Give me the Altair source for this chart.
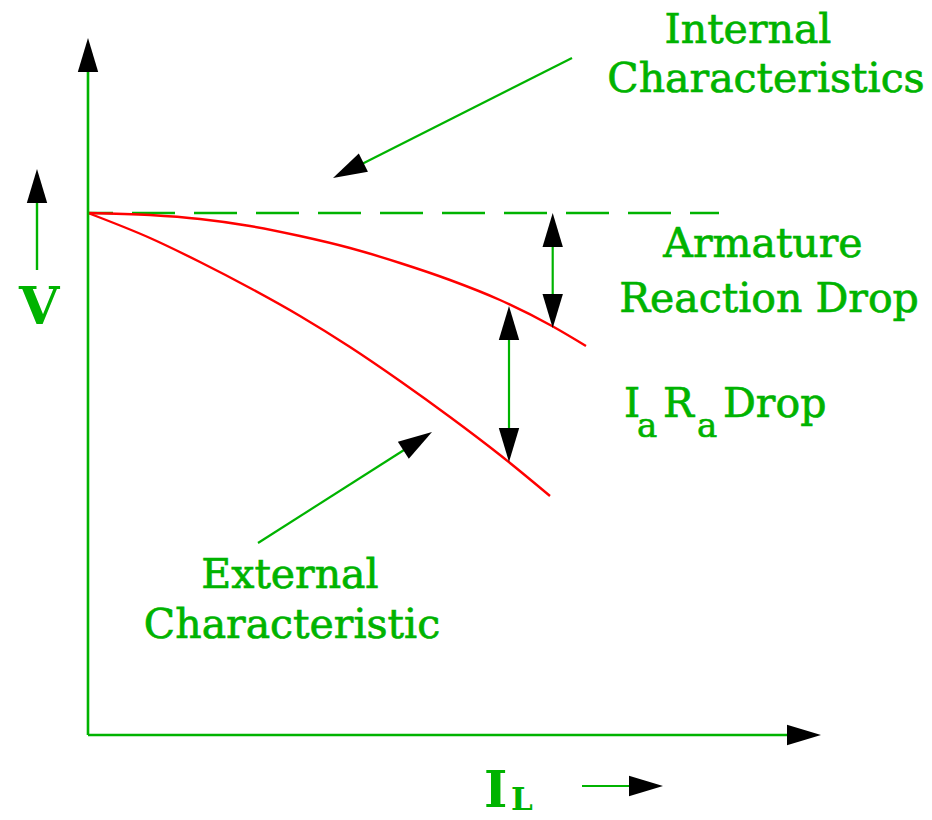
import altair as alt
import pandas as pd

GREEN = "#00b300"
RED = "#ff0000"
FONT = "DejaVu Serif"

# ---- curves (diagram coordinates, y grows downward) ----
upper_x = [88, 150, 200, 250, 300, 350, 400, 450, 500, 552, 586]
upper_y = [213, 215, 219, 226, 236, 248, 263, 280, 300, 326, 346]
lower_x = [88, 150, 200, 250, 300, 350, 400, 450, 500, 550]
lower_y = [213, 238, 262, 288, 316, 347, 381, 417, 455, 496]

# ---- straight segments ----
seg_x = [88, 88, 37, 582, 552.7, 509, 572, 258]
seg_y = [735, 735, 270, 786, 230, 320, 58, 543]
seg_x2 = [88, 795, 37, 640, 552.7, 509, 352, 415]
seg_y2 = [60, 735, 195, 786, 315, 448, 169, 443]
seg_w = [2.6, 2.6, 2.4, 2.2, 2.2, 2.2, 2.2, 2.2]

# ---- dashed internal characteristic ----
dash_x, dash_x2, dash_y = [88], [719], [213]

# ---- arrowheads (tip position and direction, degrees clockwise from up) ----
head_x = [88, 821, 37, 663, 552.7, 552.7, 509, 509, 333, 432]
head_y = [38, 735, 169, 786, 213, 328, 306, 462, 178, 432]
head_angle = [0, 90, 0, 90, 0, 180, 0, 180, 243.3, 57.5]

# ---- centred labels ----
lab_text = ["Internal", "Characteristics", "Armature", "Reaction Drop",
            "External", "Characteristic"]
lab_x = [748, 766, 763, 769, 290, 292]
lab_y = [43, 92, 257, 312, 588, 638]
lab_size = [41, 41, 41, 41, 41, 41]

# ---- left-aligned label pieces (subscripts) ----
piece_text = ["I", "a", "R", "a", "Drop"]
piece_x = [624, 637, 663, 697, 723]
piece_y = [417, 437, 417, 437, 417]
piece_size = [41, 34, 41, 34, 41]

# ---- bold axis symbols ----
sym_text = ["V", "I", "L"]
sym_x = [19, 484, 511]
sym_y = [324, 807, 810]
sym_size = [52, 50, 31]

xs = alt.Scale(domain=[8, 924], nice=False, zero=False)
ys = alt.Scale(domain=[8, 812], nice=False, zero=False, reverse=True)


def X(f):
    return alt.X(f, type="quantitative", scale=xs, axis=None)


def Y(f):
    return alt.Y(f, type="quantitative", scale=ys, axis=None)


curves = pd.DataFrame({
    "x": upper_x + lower_x,
    "y": upper_y + lower_y,
    "c": ["upper"] * len(upper_x) + ["lower"] * len(lower_x),
    "o": list(range(len(upper_x))) + list(range(len(lower_x))),
})
segs = pd.DataFrame({"x": seg_x, "y": seg_y, "x2": seg_x2, "y2": seg_y2, "w": seg_w})
dash = pd.DataFrame({"x": dash_x, "x2": dash_x2, "y": dash_y})
heads = pd.DataFrame({"x": head_x, "y": head_y, "a": head_angle})
labs = pd.DataFrame({"t": lab_text, "x": lab_x, "y": lab_y, "s": lab_size})
pieces = pd.DataFrame({"t": piece_text, "x": piece_x, "y": piece_y, "s": piece_size})
syms = pd.DataFrame({"t": sym_text, "x": sym_x, "y": sym_y, "s": sym_size})

curve_layer = alt.Chart(curves).mark_line(
    color=RED, strokeWidth=2.4, interpolate="monotone"
).encode(x=X("x"), y=Y("y"), detail="c:N", order="o:Q")

seg_layer = alt.Chart(segs).mark_rule(color=GREEN).encode(
    x=X("x"), y=Y("y"), x2="x2:Q", y2="y2:Q",
    strokeWidth=alt.StrokeWidth("w:Q", scale=None))

dash_layer = alt.Chart(dash).mark_rule(
    color=GREEN, strokeWidth=2.4, strokeDash=[43, 19], strokeDashOffset=18
).encode(x=X("x"), x2="x2:Q", y=Y("y"))

head_layer = alt.Chart(heads).mark_point(
    shape="M0,0L-0.6,2L0.6,2Z", filled=True, color="black", opacity=1, size=1156
).encode(x=X("x"), y=Y("y"), angle=alt.Angle("a:Q", scale=None))

lab_layer = alt.Chart(labs).mark_text(
    font=FONT, color=GREEN, stroke=GREEN, strokeWidth=0.7,
    align="center", baseline="alphabetic"
).encode(x=X("x"), y=Y("y"), text="t:N", size=alt.Size("s:Q", scale=None))

piece_layer = alt.Chart(pieces).mark_text(
    font=FONT, color=GREEN, stroke=GREEN, strokeWidth=0.7,
    align="left", baseline="alphabetic"
).encode(x=X("x"), y=Y("y"), text="t:N", size=alt.Size("s:Q", scale=None))

sym_layer = alt.Chart(syms).mark_text(
    font=FONT, fontWeight="bold", color=GREEN,
    align="left", baseline="alphabetic"
).encode(x=X("x"), y=Y("y"), text="t:N", size=alt.Size("s:Q", scale=None))

chart = alt.layer(
    dash_layer, curve_layer, seg_layer, head_layer, lab_layer, piece_layer, sym_layer
).properties(
    width=916, height=804, padding=0, autosize=alt.AutoSizeParams(type="none"),
    background="white"
).configure_view(stroke=None)

chart.save("out.html", embed_options={"renderer": "svg", "actions": False})
